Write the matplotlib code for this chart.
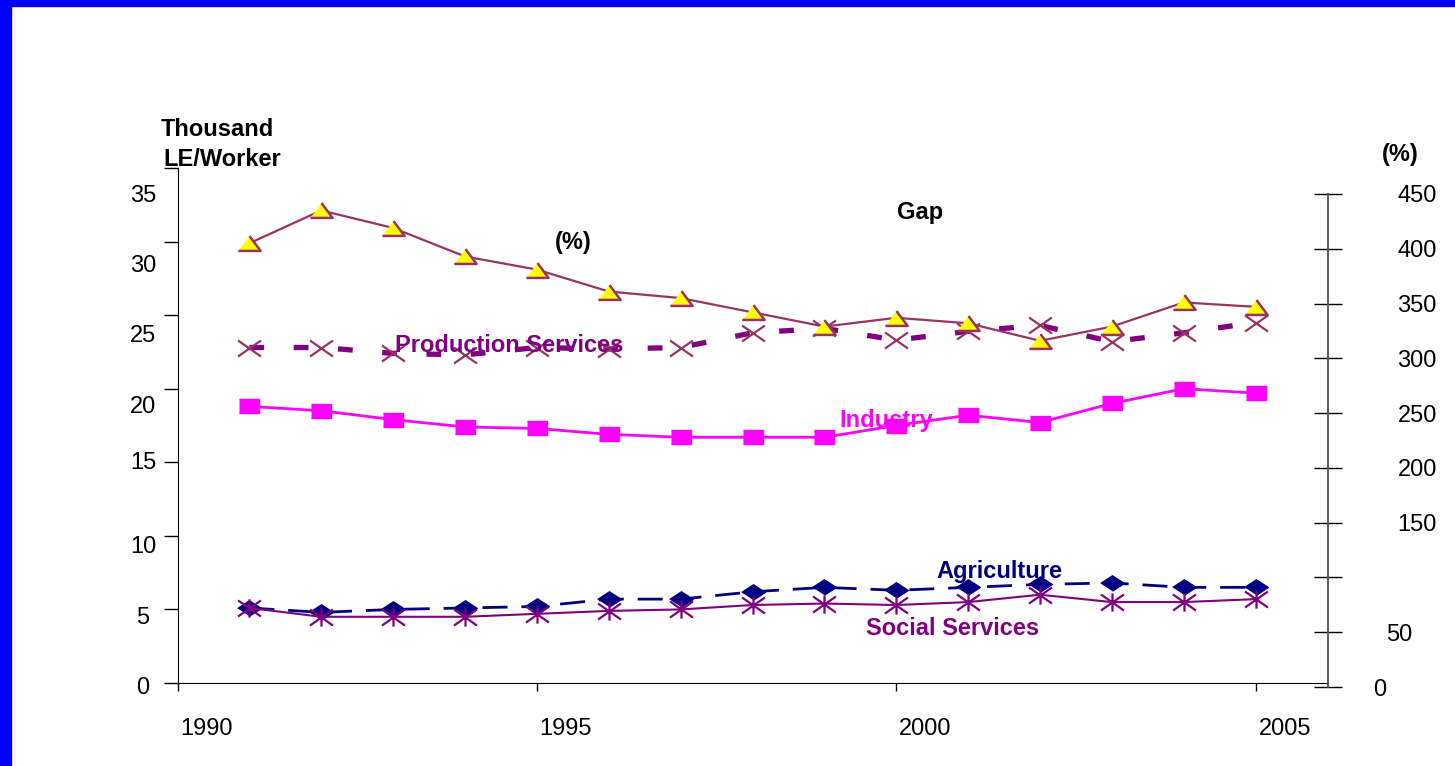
import numpy as np
import matplotlib
matplotlib.use("Agg")
import matplotlib.pyplot as plt
from matplotlib.path import Path
from matplotlib.patches import Rectangle
from matplotlib.transforms import ScaledTranslation

plt.rcParams['font.family'] = ['Liberation Sans', 'DejaVu Sans']

# productivity, thousand LE per worker
years = np.arange(1991, 2006)
production = [22.8, 22.8, 22.4, 22.3, 22.8, 22.7, 22.8, 23.8, 24.1, 23.3, 23.9, 24.3, 23.2, 23.8, 24.5]
industry = [18.8, 18.5, 17.9, 17.4, 17.3, 16.9, 16.7, 16.7, 16.7, 17.5, 18.2, 17.7, 19.0, 20.0, 19.7]
agriculture = [5.1, 4.8, 5.0, 5.1, 5.2, 5.7, 5.7, 6.2, 6.5, 6.3, 6.5, 6.7, 6.8, 6.5, 6.5]
social = [5.1, 4.5, 4.5, 4.5, 4.7, 4.9, 5.0, 5.3, 5.4, 5.3, 5.5, 6.0, 5.5, 5.5, 5.7]
# gap (%), right axis
gap = [405, 435, 419, 393, 381, 361, 355, 342, 329, 337, 332, 316, 329, 351, 347]

left_ticks = np.arange(0, 36, 5)
gap_ticks = np.arange(0, 451, 50)
gap_ticklabels = ['0', '50', '', '150', '200', '250', '300', '350', '400', '450']
year_ticks = [1990, 1995, 2000, 2005]

W, H = 1455, 766
def fx(px): return px / W
def fy(py): return 1 - py / H

# excel-like markers (wider than tall)
tri = [(-1, -0.67), (1, -0.67), (0, 0.67)]
diamond = [(-1, 0), (0, 0.65), (1, 0), (0, -0.65)]
rect = [(-1, -0.7), (1, -0.7), (1, 0.7), (-1, 0.7)]
cross = Path([(-1, -0.7), (1, 0.7), (-1, 0.7), (1, -0.7)],
             [Path.MOVETO, Path.LINETO, Path.MOVETO, Path.LINETO])
aster = Path([(-1, -0.7), (1, 0.7), (-1, 0.7), (1, -0.7), (0, -0.8), (0, 0.8)],
             [Path.MOVETO, Path.LINETO, Path.MOVETO, Path.LINETO, Path.MOVETO, Path.LINETO])

fig = plt.figure(figsize=(14.55, 7.66), dpi=100)
fig.add_artist(Rectangle((0, 0), 11 / W, 1, transform=fig.transFigure, color='#0000FF', zorder=0))
fig.add_artist(Rectangle((0, 1 - 6 / H), 1, 6 / H, transform=fig.transFigure, color='#0000FF', zorder=0))

ax = fig.add_axes([fx(177.5), fy(683), 1150 / W, 515 / H])
ax2 = fig.add_axes([fx(177.5), fy(687), 1150 / W, 493 / H])
ax2.patch.set_visible(False)

ax.plot(years, production, color='#800080', lw=3.8, linestyle=(0, (2.8, 5.6)),
        marker=cross, ms=16.5, mec='#993366', mfc='none', mew=1.6)
ax.plot(years, industry, color='#FF00FF', lw=2, marker=rect, ms=14.5, mfc='#FF00FF', mec='#FF00FF')
ax.plot(years, agriculture, color='#000080', lw=2, linestyle=(0, (9, 5)),
        marker=diamond, ms=17, mfc='#000080', mec='#000080')
ax.plot(years, social, color='#800080', lw=1.5, marker=aster, ms=16.5, mec='#800080', mfc='none', mew=1.6)

ax2.plot(years, gap, color='#993366', lw=1.6, marker=tri, ms=16, mfc='#FFFF00', mec='#993366', mew=1.8)

ax.set_xlim(1990, 2006)
ax.set_ylim(0, 35)
ax2.set_xlim(1990, 2006)
ax2.set_ylim(0, 450)

for s in ['top', 'right']:
    ax.spines[s].set_visible(False)
for s in ['top', 'left', 'bottom']:
    ax2.spines[s].set_visible(False)
ax2.spines['right'].set_color('#505050')
ax2.spines['right'].set_linewidth(1.3)

ax.set_xticks(year_ticks)
ax.set_yticks(left_ticks)
ax.tick_params(axis='x', direction='out', length=6, width=1, labelsize=17, pad=19)
ax.tick_params(axis='y', direction='out', length=10, width=1, labelsize=17, pad=14.8)
for lab in ax.get_yticklabels():
    lab.set_ha('center')

ax2.set_xticks([])
ax2.yaxis.tick_right()
ax2.set_yticks(gap_ticks)
ax2.set_yticklabels(gap_ticklabels)
ax2.tick_params(axis='y', direction='inout', length=19.5, width=1, labelsize=17, pad=40.6)

bold = dict(fontsize=17, fontweight='bold', va='center')
fig.text(fx(161), fy(130), 'Thousand', ha='left', **bold)
fig.text(fx(163), fy(160), 'LE/Worker', ha='left', **bold)
fig.text(fx(1400), fy(155), '(%)', ha='center', **bold)
ax.text(2000.33, 31.95, 'Gap', ha='center', zorder=5, **bold)
ax.text(1995.51, 29.91, '(%)', ha='center', zorder=5, **bold)
ax.text(1994.61, 22.91, 'Production Services', ha='center', color='#800080', zorder=5, **bold)
ax.text(1999.86, 17.81, 'Industry', ha='center', color='#FF00FF', zorder=5, **bold)
ax.text(2001.44, 7.61, 'Agriculture', ha='center', color='#000080', zorder=5, **bold)
ax.text(2000.79, 3.67, 'Social Services', ha='center', color='#800080', zorder=5, **bold)

# nudge tick labels the way the slide had them
fig.canvas.draw()
for t in ax.xaxis.get_major_ticks():
    t.label1.set_transform(t.label1.get_transform() + ScaledTranslation(0.29, 0, fig.dpi_scale_trans))
left_shift = [3, 6, 9, -2, 16, 18, 22, 25]
for t, dy in zip(ax.yaxis.get_major_ticks(), left_shift):
    t.label1.set_transform(t.label1.get_transform() + ScaledTranslation(0, -dy / 100, fig.dpi_scale_trans))
right_shift = [-24, -11, 0, 0, 0, 0, 0, 0, 0, 0]
for t, dx in zip(ax2.yaxis.get_major_ticks(), right_shift):
    t.label2.set_ha('left')
    t.label2.set_transform(t.label2.get_transform() + ScaledTranslation(dx / 100, 0, fig.dpi_scale_trans))

fig.savefig('out.png', dpi=100)
